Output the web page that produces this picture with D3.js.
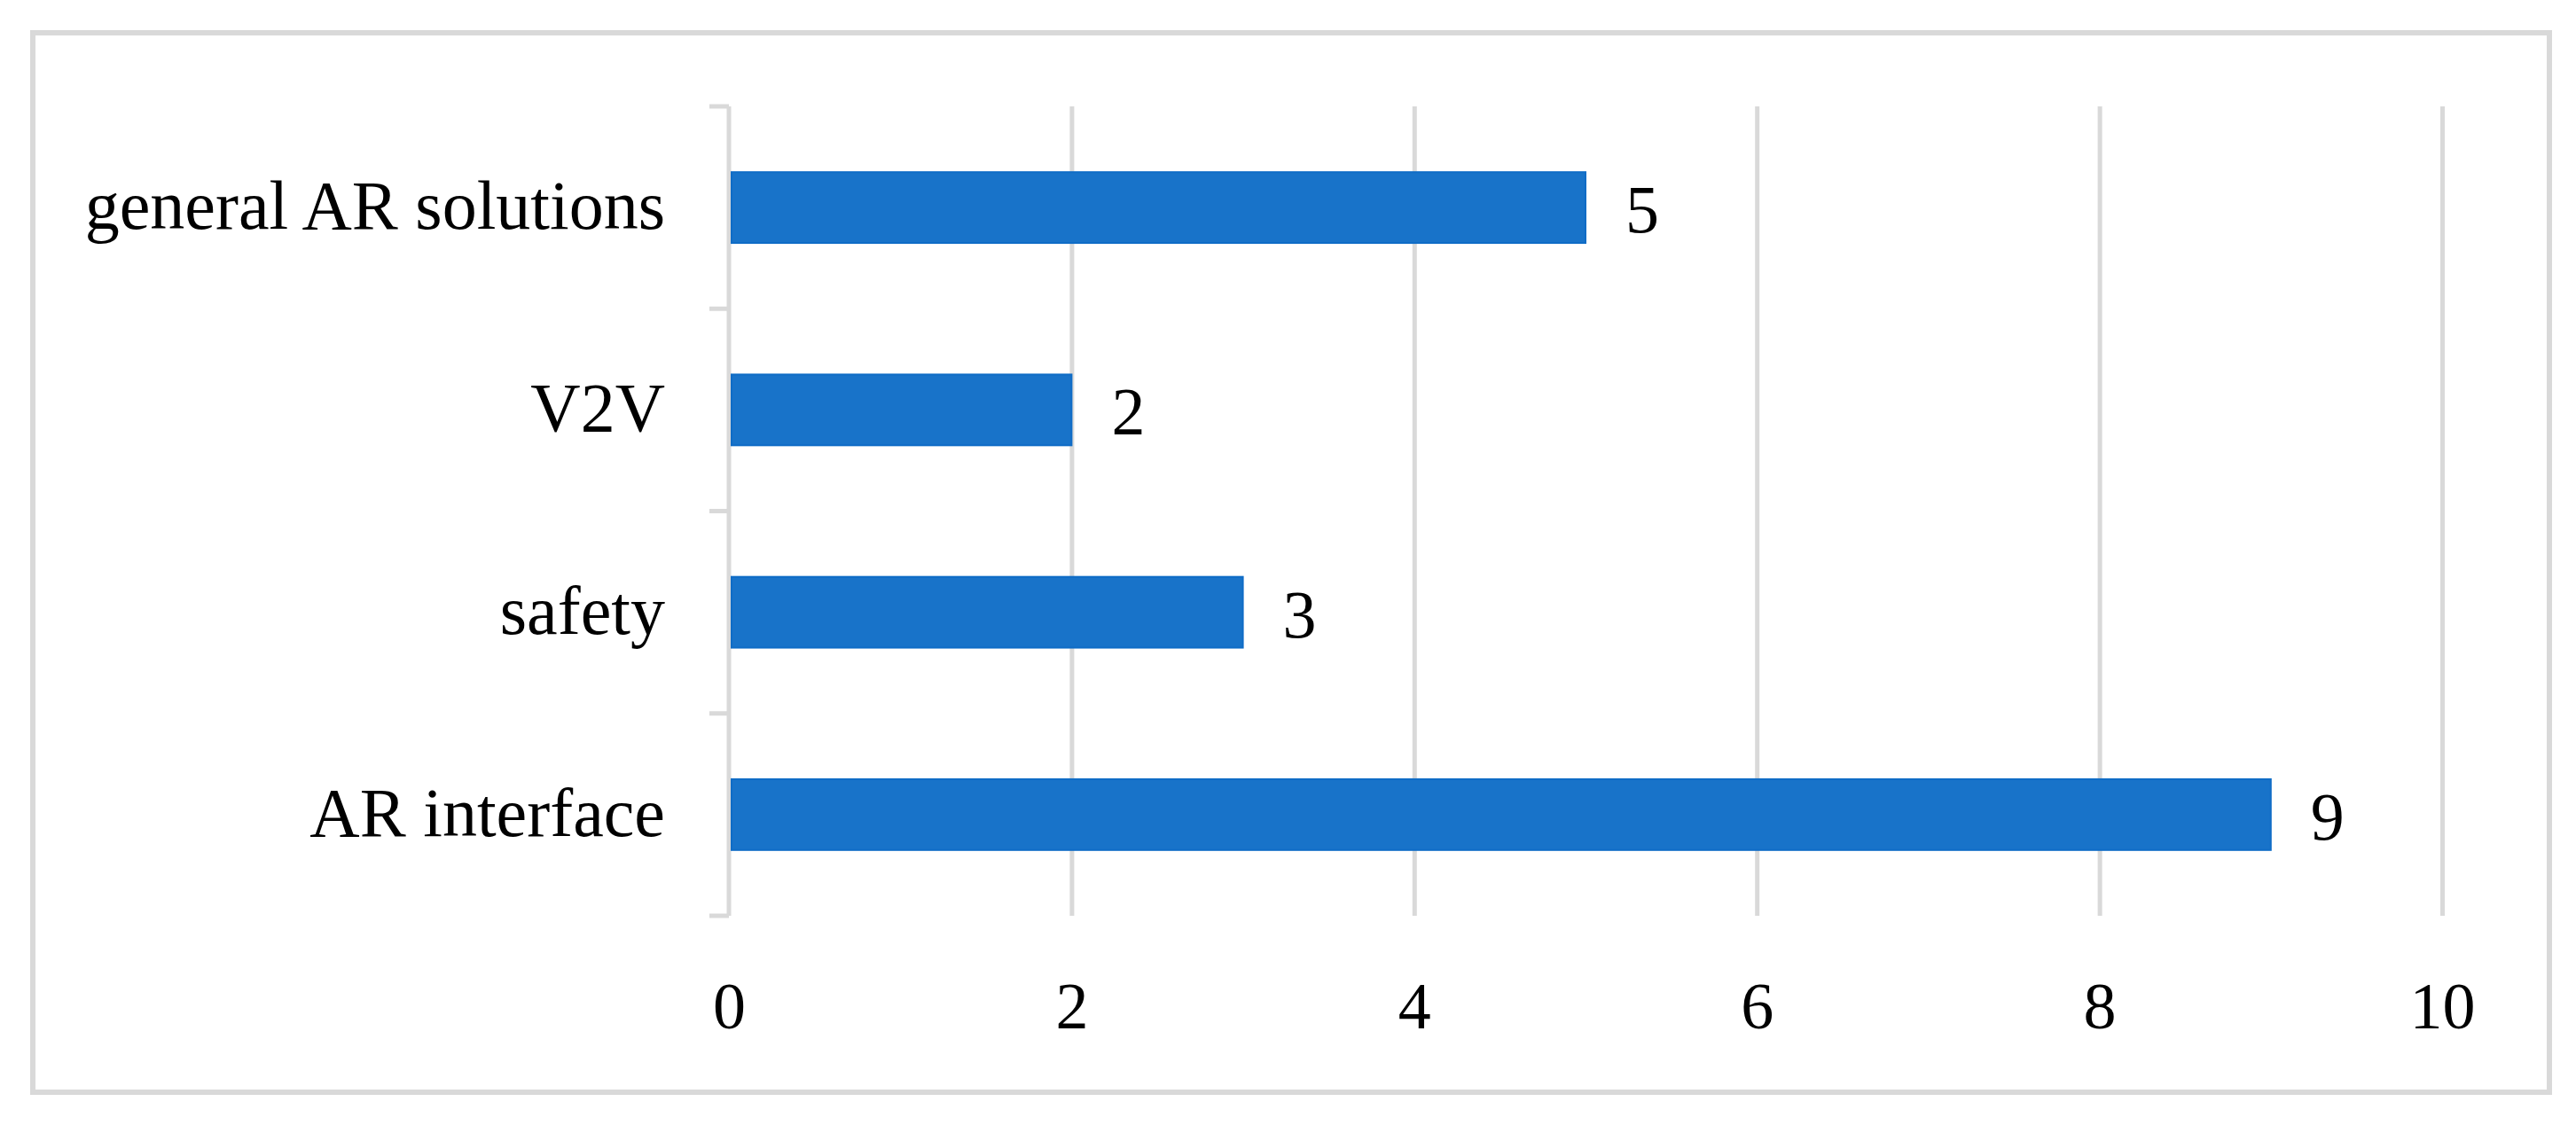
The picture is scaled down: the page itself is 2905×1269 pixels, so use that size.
<!DOCTYPE html>
<html>
<head>
<meta charset="utf-8">
<script src="https://cdn.jsdelivr.net/npm/d3@7"></script>
<style>
  html, body { margin: 0; padding: 0; background: #ffffff; }
  svg { display: block; }
  text { font-family: "Liberation Serif", "DejaVu Serif", serif; fill: #000; }
</style>
</head>
<body>
<svg id="chart" width="2905" height="1269"></svg>
<script>
// Data (bottom to top as drawn: top category first)
const categories = ["general AR solutions", "V2V", "safety", "AR interface"];
const values = [5, 2, 3, 9];
const xTicks = [0, 2, 4, 6, 8, 10];

const W = 2905, H = 1269;
const svg = d3.select("#chart");

// outer frame
svg.append("rect")
  .attr("x", 37).attr("y", 37)
  .attr("width", 2875 - 37).attr("height", 1232 - 37)
  .attr("fill", "#ffffff")
  .attr("stroke", "#d9d9d9")
  .attr("stroke-width", 6);

const plot = { left: 822, right: 2754, top: 120, bottom: 1033 };

const x = d3.scaleLinear().domain([0, 10]).range([plot.left, plot.right]);
const y = d3.scaleBand().domain(categories)
  .range([plot.top, plot.bottom])
  .paddingInner(0.65).paddingOuter(0.325);

// vertical gridlines
const gridAxis = d3.axisBottom(x).tickValues(xTicks.filter(d => d !== 0))
  .tickSize(-(plot.bottom - plot.top)).tickFormat("");
const gg = svg.append("g").attr("transform", `translate(0,${plot.bottom})`).call(gridAxis);
gg.select(".domain").remove();
gg.selectAll(".tick line").attr("stroke", "#d9d9d9").attr("stroke-width", 5);

// y axis line with category separators
const yAxisG = svg.append("g");
yAxisG.append("line")
  .attr("x1", plot.left).attr("x2", plot.left)
  .attr("y1", plot.top).attr("y2", plot.bottom)
  .attr("stroke", "#d9d9d9").attr("stroke-width", 5);
const sepYs = [plot.top].concat(categories.map(c => y(c) + y.bandwidth() + y.step() * y.paddingInner() / 2));
sepYs[sepYs.length - 1] = plot.bottom;
yAxisG.selectAll("line.sep").data(sepYs).enter().append("line")
  .attr("class", "sep")
  .attr("x1", plot.left - 22).attr("x2", plot.left)
  .attr("y1", d => d).attr("y2", d => d)
  .attr("stroke", "#d9d9d9").attr("stroke-width", 5);

// category labels
svg.append("g").selectAll("text").data(categories).enter().append("text")
  .attr("x", 750)
  .attr("y", d => y(d) + y.bandwidth() / 2 + 24)
  .attr("text-anchor", "end")
  .attr("font-size", 78)
  .text(d => d);

// bars
svg.append("g").selectAll("rect").data(categories).enter().append("rect")
  .attr("x", x(0) + 3)
  .attr("y", d => y(d))
  .attr("width", (d, i) => x(values[i]) - x(0) - 3)
  .attr("height", y.bandwidth())
  .attr("fill", "#1873c9")
  .attr("stroke", "#0f6cc6")
  .attr("stroke-width", 2);

// value labels
svg.append("g").selectAll("text").data(categories).enter().append("text")
  .attr("x", (d, i) => x(values[i]) + 45)
  .attr("y", d => y(d) + y.bandwidth() / 2 + 28)
  .attr("text-anchor", "start")
  .attr("font-size", 76)
  .text((d, i) => values[i]);

// x tick labels
const xa = d3.axisBottom(x).tickValues(xTicks).tickSize(0).tickPadding(0).tickFormat(d3.format("d"));
const xg = svg.append("g").attr("transform", `translate(0,1160)`).call(xa);
xg.select(".domain").remove();
xg.selectAll(".tick text")
  .attr("y", 0).attr("dy", 0)
  .attr("font-size", 74)
  .attr("font-family", "Liberation Serif, DejaVu Serif, serif")
  .attr("fill", "#000");
</script>
</body>
</html>
